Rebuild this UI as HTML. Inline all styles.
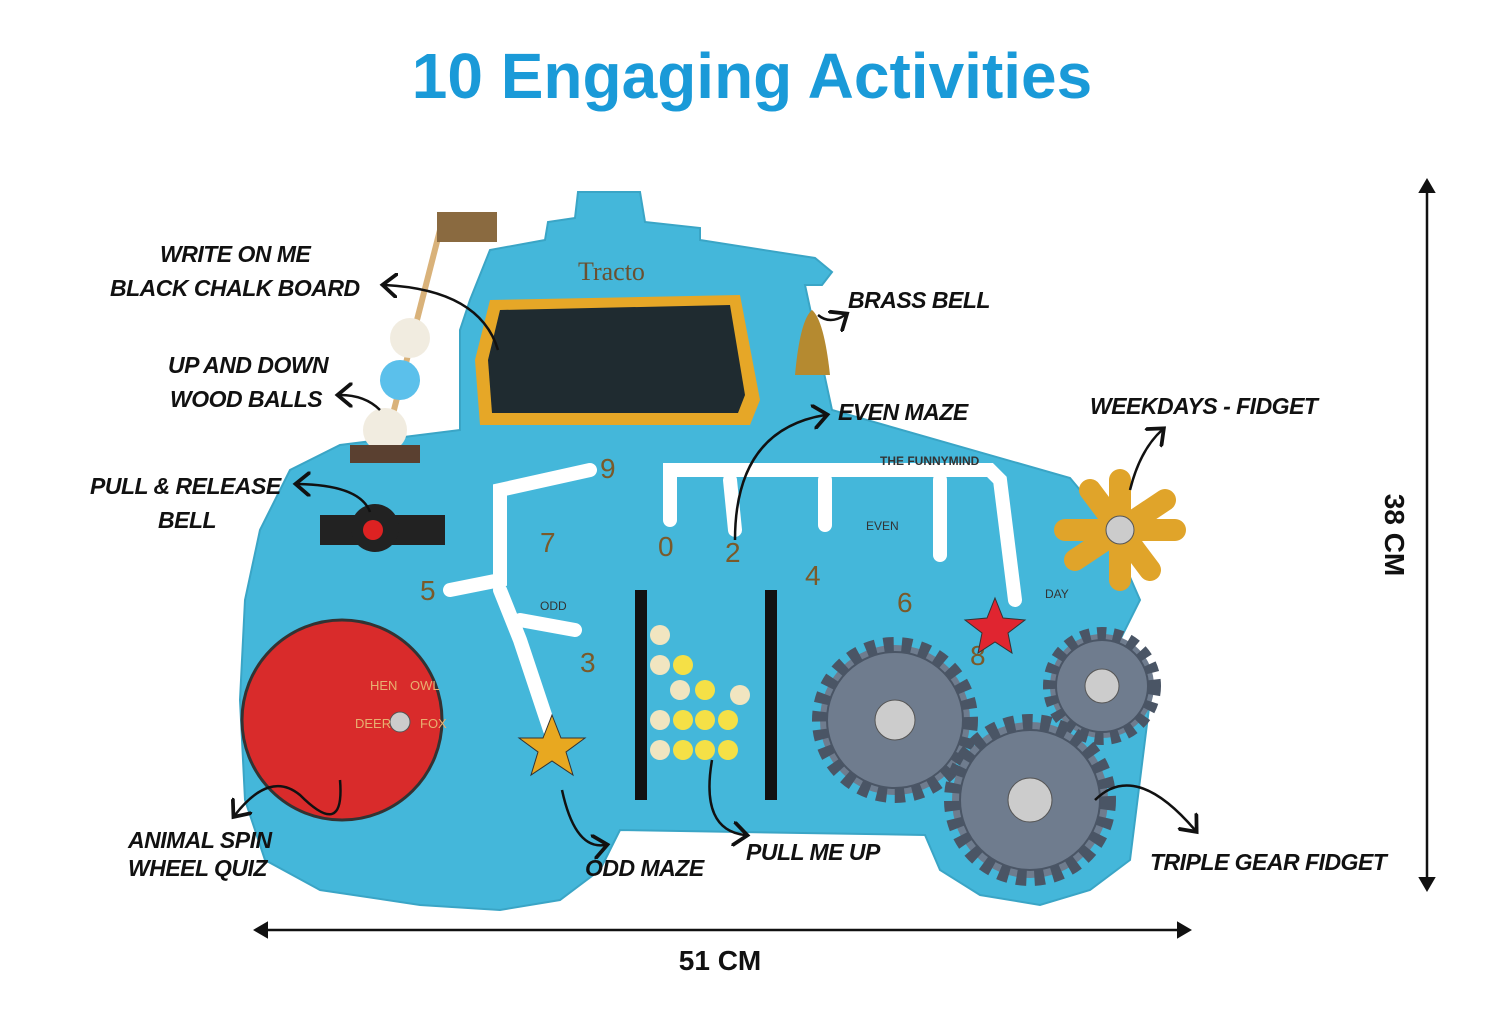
<!DOCTYPE html>
<html><head><meta charset="utf-8"><style>
html,body{margin:0;padding:0;background:#fff;}
svg{display:block}
.l{font-family:"Liberation Sans",sans-serif;font-weight:bold;font-style:italic;font-size:23px;letter-spacing:-0.5px;fill:#111;}
.n{font-family:"Liberation Sans",sans-serif;font-size:28px;fill:#7a5a2a;}
</style></head><body>
<svg width="1500" height="1029" viewBox="0 0 1500 1029" xmlns="http://www.w3.org/2000/svg">
<defs>
<marker id="a" markerWidth="10" markerHeight="10" refX="5" refY="5" orient="auto"><path d="M0,0 L6,5 L0,10" fill="none" stroke="#111" stroke-width="1.5"/></marker>
</defs>
<text x="752" y="98" text-anchor="middle" font-family="Liberation Sans,sans-serif" font-weight="bold" font-size="64" fill="#1a9ad8">10 Engaging Activities</text>

<path fill="#44b7da" stroke="#3aa5c6" stroke-width="2" d="M578,192 L640,192 L645,222 L700,228 L700,240 L815,258 L832,272 L822,285 L805,285 L832,410 L1070,478 L1105,520 L1140,600 L1120,640 L1150,700 L1140,780 L1130,860 L1090,890 L1040,905 L980,895 L940,870 L925,835 L620,830 L600,870 L560,900 L500,910 L420,905 L320,890 L265,860 L245,800 L240,700 L245,600 L260,530 L290,470 L340,445 L420,435 L460,430 L460,330 L470,300 L490,250 L545,240 L548,222 L575,218 Z"/>
<path d="M490,300 L740,295 L760,400 L750,425 L480,425 L475,360 Z" fill="#e6a727"/>
<path d="M500,310 L730,305 L745,395 L738,413 L492,413 L488,360 Z" fill="#1f2b30"/>
<text x="578" y="280" font-family="Liberation Serif,serif" font-size="26" fill="#6a5030">Tracto</text>
<path d="M450,590 L500,580 L500,490 L590,470 M500,590 L520,640 L550,730 M520,620 L575,630 M670,520 L670,470 L990,470 L1000,480 L1015,600 M825,480 L825,525 M940,480 L940,555 M730,480 L735,530" fill="none" stroke="#fff" stroke-width="14" stroke-linecap="round"/>
<text class="n" x="600" y="478">9</text><text class="n" x="540" y="552">7</text><text class="n" x="420" y="600">5</text><text class="n" x="580" y="672">3</text>
<text class="n" x="658" y="556">0</text><text class="n" x="725" y="562">2</text><text class="n" x="805" y="585">4</text><text class="n" x="897" y="612">6</text><text class="n" x="970" y="665">8</text>
<text x="540" y="610" font-family="Liberation Sans,sans-serif" font-size="12" fill="#333">ODD</text>
<text x="866" y="530" font-family="Liberation Sans,sans-serif" font-size="12" fill="#333">EVEN</text>
<text x="880" y="465" font-family="Liberation Sans,sans-serif" font-size="12" font-weight="bold" fill="#333">THE FUNNYMIND</text>
<text x="1045" y="598" font-family="Liberation Sans,sans-serif" font-size="12" fill="#333">DAY</text>
<polygon points="552,715 561,738 585,738 566,752 573,775 552,761 531,775 538,752 519,738 543,738" fill="#e8a820" stroke="#333"/>
<polygon points="995,598 1003,618 1025,620 1008,633 1012,653 995,642 978,653 982,633 965,620 987,618" fill="#e02530" stroke="#333"/>
<circle cx="342" cy="720" r="100" fill="#d92b2b" stroke="#333" stroke-width="3"/>
<circle cx="400" cy="722" r="10" fill="#ccc" stroke="#555"/>
<g font-family="Liberation Sans,sans-serif" font-size="13" fill="#e8b070"><text x="355" y="728">DEER</text><text x="420" y="728">FOX</text><text x="370" y="690">HEN</text><text x="410" y="690">OWL</text></g>
<rect x="320" y="515" width="125" height="30" fill="#222"/><circle cx="375" cy="528" r="24" fill="#222"/><circle cx="373" cy="530" r="10" fill="#d22"/>
<line x1="440" y1="230" x2="385" y2="445" stroke="#d9b27a" stroke-width="6"/>
<rect x="437" y="212" width="60" height="30" fill="#8a6a40"/>
<circle cx="410" cy="338" r="20" fill="#f1ece0"/><circle cx="400" cy="380" r="20" fill="#5bc0eb"/><circle cx="385" cy="430" r="22" fill="#f1ece0"/>
<rect x="350" y="445" width="70" height="18" fill="#5a4030"/>
<path d="M795,375 Q800,320 812,310 Q824,320 830,375 Z" fill="#b58a30"/>
<rect x="635" y="590" width="12" height="210" fill="#111"/><rect x="765" y="590" width="12" height="210" fill="#111"/>
<g fill="#f1e5c0"><circle cx="660" cy="635" r="10"/><circle cx="660" cy="665" r="10"/><circle cx="680" cy="690" r="10"/><circle cx="740" cy="695" r="10"/><circle cx="660" cy="720" r="10"/><circle cx="660" cy="750" r="10"/></g>
<g fill="#f5e046"><circle cx="683" cy="665" r="10"/><circle cx="705" cy="690" r="10"/><circle cx="683" cy="720" r="10"/><circle cx="705" cy="720" r="10"/><circle cx="728" cy="720" r="10"/><circle cx="683" cy="750" r="10"/><circle cx="705" cy="750" r="10"/><circle cx="728" cy="750" r="10"/></g>
<g fill="#6f7c8e" stroke="#4a5565" stroke-width="2">
<circle cx="895" cy="720" r="75" stroke-dasharray="10 8" stroke-width="16"/><circle cx="895" cy="720" r="68"/>
<circle cx="1102" cy="686" r="52" stroke-dasharray="9 7" stroke-width="14"/><circle cx="1102" cy="686" r="46"/>
<circle cx="1030" cy="800" r="78" stroke-dasharray="10 8" stroke-width="16"/><circle cx="1030" cy="800" r="70"/>
</g>
<g fill="#ccc" stroke="#555"><circle cx="895" cy="720" r="20"/><circle cx="1102" cy="686" r="17"/><circle cx="1030" cy="800" r="22"/></g>
<g stroke="#e0a42a" stroke-width="22" stroke-linecap="round"><line x1="1090" y1="490" x2="1150" y2="570"/><line x1="1165" y1="500" x2="1075" y2="560"/><line x1="1120" y1="480" x2="1120" y2="580"/><line x1="1065" y1="530" x2="1175" y2="530"/></g>
<circle cx="1120" cy="530" r="14" fill="#ccc" stroke="#555"/>

<text class="l" x="160" y="262">WRITE ON ME</text>
<text class="l" x="110" y="296">BLACK CHALK BOARD</text>
<text class="l" x="168" y="373">UP AND DOWN</text>
<text class="l" x="170" y="407">WOOD BALLS</text>
<text class="l" x="90" y="494">PULL &amp; RELEASE</text>
<text class="l" x="158" y="528">BELL</text>
<text class="l" x="848" y="308">BRASS BELL</text>
<text class="l" x="838" y="420">EVEN MAZE</text>
<text class="l" x="1090" y="414">WEEKDAYS - FIDGET</text>
<text class="l" x="128" y="848">ANIMAL SPIN</text>
<text class="l" x="128" y="876">WHEEL QUIZ</text>
<text class="l" x="585" y="876">ODD MAZE</text>
<text class="l" x="746" y="860">PULL ME UP</text>
<text class="l" x="1150" y="870">TRIPLE GEAR FIDGET</text>

<g fill="none" stroke="#111" stroke-width="2.5" marker-end="url(#a)">
<path d="M498,350 Q480,290 385,285"/>
<path d="M380,410 Q365,395 340,395"/>
<path d="M370,512 Q360,485 298,484"/>
<path d="M818,315 Q830,325 845,315"/>
<path d="M735,540 Q735,430 825,415"/>
<path d="M1130,490 Q1140,450 1162,430"/>
<path d="M340,780 Q345,840 300,795 Q270,770 235,815"/>
<path d="M562,790 Q575,850 605,845"/>
<path d="M712,760 Q700,830 745,835"/>
<path d="M1095,800 Q1135,760 1195,830"/>
</g>

<g stroke="#111" stroke-width="2.5" fill="none">
<line x1="1427" y1="185" x2="1427" y2="885"/>
<line x1="260" y1="930" x2="1185" y2="930"/>
</g>
<path d="M1420,192 L1427,180 L1434,192 Z M1420,878 L1427,890 L1434,878 Z M267,923 L255,930 L267,937 Z M1178,923 L1190,930 L1178,937 Z" fill="#111" stroke="#111" stroke-width="2"/>
<text x="720" y="970" text-anchor="middle" font-family="Liberation Sans,sans-serif" font-weight="bold" font-size="28" fill="#111">51 CM</text>
<text transform="translate(1385,535) rotate(90)" text-anchor="middle" font-family="Liberation Sans,sans-serif" font-weight="bold" font-size="28" fill="#111">38 CM</text>
</svg>
</body></html>
